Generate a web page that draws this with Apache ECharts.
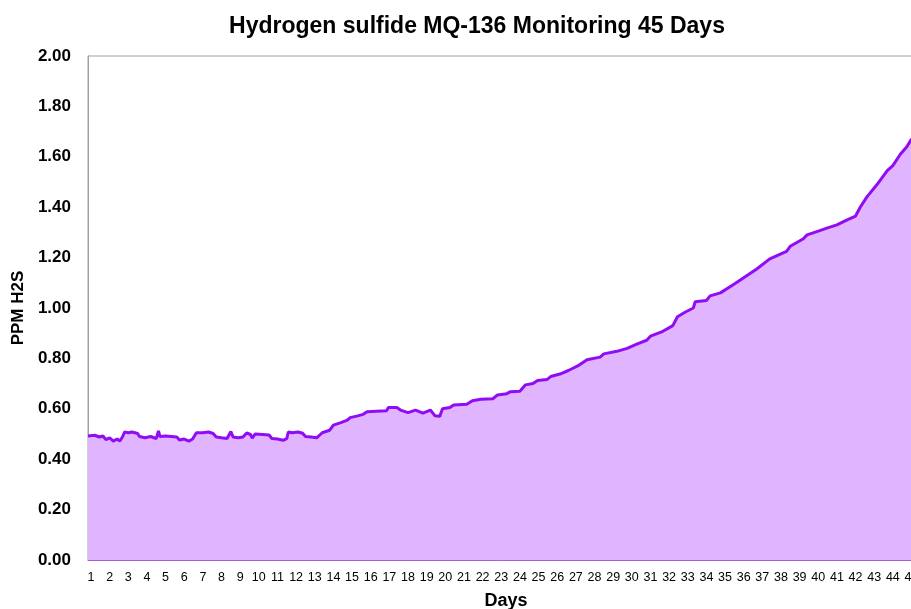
<!DOCTYPE html>
<html>
<head>
<meta charset="utf-8">
<script src="https://cdn.jsdelivr.net/npm/echarts@6/dist/echarts.min.js"></script>
<style>
  html, body { margin: 0; padding: 0; background: #fff; }
  #main { width: 911px; height: 609px; }
</style>
</head>
<body>
<div id="main"></div>
<script>
// readings, day position (fractional) and ppm value
var days = [
  0.84, 1.20, 1.45, 1.64, 1.80, 2.00, 2.20, 2.40, 2.55, 2.70, 2.80, 3.00, 3.20, 3.50, 3.60, 3.90,
  4.20, 4.50, 4.62, 4.70, 5.00, 5.30, 5.60, 5.75, 6.00, 6.25, 6.45, 6.65, 7.00, 7.30, 7.55, 7.72,
  8.00, 8.30, 8.50, 8.62, 8.90, 9.15, 9.35, 9.55, 9.65, 9.80, 10.20, 10.55, 10.70, 11.00, 11.30, 11.50,
  11.58, 11.80, 12.10, 12.35, 12.50, 12.80, 13.10, 13.40, 13.80, 14.00, 14.40, 14.75, 14.90, 15.30,
  15.60, 15.80, 16.30, 16.85, 16.95, 17.40, 17.60, 18.00, 18.40, 18.80, 19.20, 19.45, 19.70, 19.85,
  20.25, 20.45, 21.15, 21.45, 21.90, 22.55, 22.80, 23.30, 23.50, 24.00, 24.30, 24.70, 24.95, 25.45,
  25.65, 26.15, 26.60, 27.10, 27.60, 28.30, 28.50, 29.20, 29.75, 30.30, 30.80, 31.00, 31.60, 32.20,
  32.45, 32.90, 33.30, 33.40, 34.00, 34.20, 34.75, 35.50, 36.00, 36.70, 37.40, 38.30, 38.50, 39.20,
  39.40, 40.00, 40.50, 41.00, 41.55, 42.00, 42.25, 42.60, 43.15, 43.70, 44.00, 44.40, 44.75, 44.95, 45.30
];
var ppm = [
  0.492, 0.495, 0.488, 0.492, 0.478, 0.485, 0.472, 0.480, 0.472, 0.490, 0.508, 0.505, 0.508, 0.502, 0.490, 0.485,
  0.490, 0.482, 0.512, 0.490, 0.492, 0.490, 0.488, 0.476, 0.480, 0.472, 0.480, 0.505, 0.505, 0.508, 0.502, 0.488,
  0.485, 0.482, 0.510, 0.488, 0.485, 0.488, 0.504, 0.498, 0.484, 0.500, 0.498, 0.496, 0.482, 0.480, 0.475, 0.482,
  0.508, 0.505, 0.508, 0.503, 0.490, 0.488, 0.485, 0.505, 0.515, 0.535, 0.545, 0.555, 0.565, 0.572,
  0.578, 0.588, 0.590, 0.592, 0.605, 0.605, 0.595, 0.585, 0.595, 0.583, 0.595, 0.572, 0.570, 0.600,
  0.605, 0.615, 0.618, 0.632, 0.638, 0.640, 0.655, 0.660, 0.668, 0.670, 0.695, 0.700, 0.712, 0.716,
  0.728, 0.738, 0.752, 0.770, 0.795, 0.805, 0.818, 0.828, 0.840, 0.858, 0.872, 0.888, 0.905, 0.930,
  0.965, 0.985, 1.000, 1.025, 1.030, 1.048, 1.060, 1.095, 1.120, 1.155, 1.195, 1.225, 1.245, 1.275,
  1.290, 1.305, 1.318, 1.330, 1.350, 1.365, 1.400, 1.440, 1.490, 1.545, 1.565, 1.610, 1.640, 1.665, 1.690
];
var dayLabels = [];
for (var d = 1; d <= 45; d++) dayLabels.push(d);

var chart = echarts.init(document.getElementById('main'));
chart.setOption({
  animation: false,
  title: {
    text: 'Hydrogen sulfide MQ-136 Monitoring 45 Days',
    left: 472,
    top: 10,
    textAlign: 'center',
    textStyle: { fontFamily: 'Liberation Sans', fontSize: 23, fontWeight: 'bold', color: '#000' }
  },
  grid: {
    left: 88, top: 56, width: 836, height: 504,
    containLabel: false,
    outerBoundsMode: 'none',
    show: true, borderColor: '#a0a0a0', borderWidth: 1
  },
  xAxis: {
    type: 'value',
    min: 0.84,
    max: 45.67,
    name: 'Days',
    nameLocation: 'middle',
    nameGap: 32,
    nameTextStyle: { fontFamily: 'Liberation Sans', fontSize: 18, fontWeight: 'bold', color: '#000' },
    axisLine: { lineStyle: { color: '#a35ee0', width: 1 } },
    axisTick: { show: false },
    splitLine: { show: false },
    axisLabel: {
      customValues: dayLabels,
      margin: 11,
      fontFamily: 'Liberation Sans',
      fontSize: 12.5,
      color: '#000'
    }
  },
  yAxis: {
    type: 'value',
    min: 0,
    max: 2,
    interval: 0.2,
    name: 'PPM H2S',
    nameLocation: 'middle',
    nameGap: 59,
    nameTextStyle: { fontFamily: 'Liberation Sans', fontSize: 17, fontWeight: 'bold', color: '#000' },
    axisLine: { show: true, lineStyle: { color: '#a0a0a0' } },
    axisTick: { show: false },
    splitLine: { show: false },
    axisLabel: {
      margin: 17,
      fontFamily: 'Liberation Sans',
      fontSize: 17,
      fontWeight: 'bold',
      color: '#000',
      formatter: function (v) { return v.toFixed(2); }
    }
  },
  series: [{
    type: 'line',
    data: days.map(function (d, i) { return [d, ppm[i]]; }),
    showSymbol: false,
    lineStyle: { color: '#8f0cf5', width: 3 },
    areaStyle: { color: '#e0b4ff', opacity: 1 }
  }]
});
</script>
</body>
</html>
